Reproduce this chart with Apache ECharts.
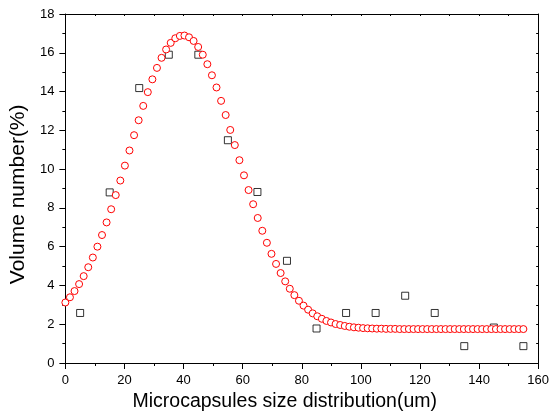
<!DOCTYPE html>
<html>
<head>
<meta charset="utf-8">
<script src="https://cdn.jsdelivr.net/npm/echarts@6/dist/echarts.min.js"></script>
<style>
    html, body {margin: 0; padding: 0; background: #fff;}
    #chart {width: 552px; height: 417px;}
</style>
</head>
<body>
<div id="chart"></div>
<script>
// measured points (squares)
var sqX = [5, 15, 25, 35, 45, 55, 65, 75, 85, 95, 105, 115, 125, 135, 145, 155];
var sqY = [2.58, 8.8, 14.18, 15.9, 15.9, 11.49, 8.82, 5.27, 1.78, 2.58, 2.58, 3.47, 2.58, 0.87, 1.83, 0.87];

// fitted curve (circles)
var fitX = [0, 1.55, 3.1, 4.65, 6.2, 7.75, 9.3, 10.85, 12.4, 13.95,
    15.5, 17.05, 18.6, 20.15, 21.7, 23.25, 24.8, 26.35, 27.9, 29.45,
    31, 32.55, 34.1, 35.65, 37.2, 38.75, 40.3, 41.85, 43.4, 44.95,
    46.5, 48.05, 49.6, 51.15, 52.7, 54.25, 55.8, 57.35, 58.9, 60.45,
    62, 63.55, 65.1, 66.65, 68.2, 69.75, 71.3, 72.85, 74.4, 75.95,
    77.5, 79.05, 80.6, 82.15, 83.7, 85.25, 86.8, 88.35, 89.9, 91.45,
    93, 94.55, 96.1, 97.65, 99.2, 100.75, 102.3, 103.85, 105.4, 106.95,
    108.5, 110.05, 111.6, 113.15, 114.7, 116.25, 117.8, 119.35, 120.9, 122.45,
    124, 125.55, 127.1, 128.65, 130.2, 131.75, 133.3, 134.85, 136.4, 137.95,
    139.5, 141.05, 142.6, 144.15, 145.7, 147.25, 148.8, 150.35, 151.9, 153.45,
    155];
var fitY = [3.12, 3.39, 3.71, 4.07, 4.48, 4.94, 5.44, 6.00, 6.60, 7.25,
    7.93, 8.66, 9.41, 10.18, 10.96, 11.75, 12.52, 13.26, 13.97, 14.63,
    15.22, 15.74, 16.17, 16.51, 16.75, 16.87, 16.89, 16.80, 16.61, 16.30,
    15.90, 15.41, 14.84, 14.21, 13.52, 12.79, 12.02, 11.24, 10.46, 9.68,
    8.92, 8.19, 7.48, 6.82, 6.20, 5.63, 5.11, 4.64, 4.21, 3.83,
    3.50, 3.21, 2.96, 2.75, 2.56, 2.41, 2.28, 2.17, 2.09, 2.01,
    1.96, 1.91, 1.87, 1.84, 1.82, 1.80, 1.79, 1.78, 1.77, 1.77,
    1.76, 1.76, 1.76, 1.75, 1.75, 1.75, 1.75, 1.75, 1.75, 1.75,
    1.75, 1.75, 1.75, 1.75, 1.75, 1.75, 1.75, 1.75, 1.75, 1.75,
    1.75, 1.75, 1.75, 1.75, 1.75, 1.75, 1.75, 1.75, 1.75, 1.75,
    1.75];

var xTicks = {min: 0, max: 160, interval: 20};
var yTicks = {min: 0, max: 18, interval: 2};

var font = 'Liberation Sans, Arial, sans-serif';

function zip(xs, ys) {
    var out = [];
    for (var i = 0; i < xs.length; i++) {
        out.push([xs[i], ys[i]]);
    }
    return out;
}

// outer axes: ticks outward with labels; mirror axes: short ticks inward, no labels
function axisBase(mirror) {
    return {
        axisLine: {show: true, onZero: false, lineStyle: {color: '#000', width: 1}},
        axisTick: {show: true, inside: mirror, length: mirror ? 2 : 6, lineStyle: {color: '#000', width: 1}},
        minorTick: {show: true, splitNumber: 2, length: mirror ? 2 : 3, lineStyle: {color: '#000', width: 1}},
        axisLabel: {show: !mirror, color: '#000', fontSize: 13, fontFamily: font, margin: 11},
        splitLine: {show: false}
    };
}

var chart = echarts.init(document.getElementById('chart'));

var xBottom = Object.assign({type: 'value', position: 'bottom',
    name: 'Microcapsules size distribution(um)', nameLocation: 'middle', nameGap: 29,
    nameTextStyle: {color: '#000', fontSize: 19.5, fontFamily: font, padding: [0, 34, 0, 0]}},
    xTicks, axisBase(false));
var xTop = Object.assign({type: 'value', position: 'top'}, xTicks, axisBase(true));
// two no-break spaces nudge the rotated title a little downwards
var yLeft = Object.assign({type: 'value', position: 'left',
    name: 'Volume number(%)\u00a0\u00a0', nameLocation: 'middle', nameGap: 36,
    nameTextStyle: {color: '#000', fontSize: 21, fontFamily: font}},
    yTicks, axisBase(false));
var yRight = Object.assign({type: 'value', position: 'right'}, yTicks, axisBase(true));

var option = {
    animation: false,
    backgroundColor: '#fff',
    grid: {left: 63, right: 11, top: 14, bottom: 52},
    xAxis: [xBottom, xTop],
    yAxis: [yLeft, yRight],
    series: [{
        name: 'measured',
        type: 'scatter',
        symbol: 'rect',
        symbolSize: 7,
        itemStyle: {color: 'transparent', borderColor: '#000', borderWidth: 1},
        data: zip(sqX, sqY),
        z: 2
    }, {
        name: 'fit',
        type: 'scatter',
        symbol: 'circle',
        symbolSize: 7,
        itemStyle: {color: '#fff', borderColor: '#ff0000', borderWidth: 1, opacity: 1},
        data: zip(fitX, fitY),
        z: 3
    }]
};

chart.setOption(option);
</script>
</body>
</html>
